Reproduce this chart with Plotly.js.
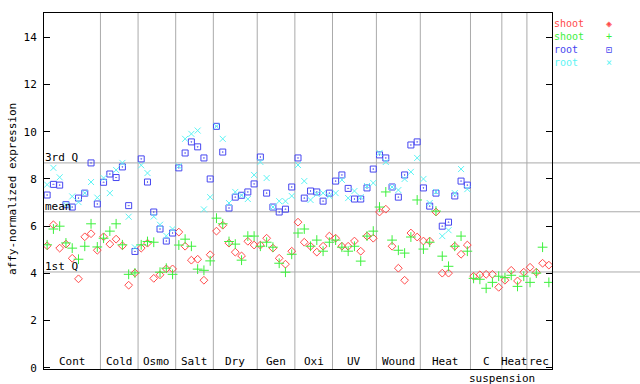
<!DOCTYPE html>
<html>
<head>
<meta charset="utf-8">
<script src="https://cdn.plot.ly/plotly-3.0.1.min.js"></script>
<style>html,body{margin:0;padding:0;background:#fff;}#chart{width:640px;height:384px;}</style>
</head>
<body>
<div id="chart"></div>
<script>
// Group labels and number of samples per group
const groupLabels = ["Cont","Cold","Osmo","Salt","Dry","Gen","Oxi","UV","Wound","Heat","C","Heat","rec"];
const groupSizes  = [9,6,6,6,7,6,6,7,7,8,5,4,4];
const subLabel = "suspension";

// Reference lines
const q3Value = 8.68;
const meanValue = 6.61;
const q1Value = 4.06;

// Series values (sample 1..81)
const shootRed = [5.17,6.06,5.07,5.24,4.64,3.77,5.55,5.68,4.98,
  5.55,5.24,5.45,5.17,3.50,4.02,
  5.07,5.28,3.79,3.94,4.19,4.19,
  5.75,5.15,4.56,4.60,3.71,4.79,
  5.79,6.04,5.28,4.90,4.74,5.36,5.20,
  5.20,5.49,5.07,4.64,4.39,4.94,
  6.17,5.32,5.15,4.90,5.15,5.58,
  5.49,5.15,5.15,5.37,4.94,5.58,5.49,
  6.60,6.72,5.15,4.22,3.71,5.71,5.54,
  5.37,5.37,6.60,4.01,4.01,5.15,4.81,5.20,
  3.88,3.94,3.96,3.96,3.41,
  3.71,4.13,3.68,4.05,
  4.26,4.05,4.43,4.35];
const shootGreen = [5.21,5.88,6.00,5.29,5.07,4.60,5.15,6.10,5.12,
  5.49,5.79,6.10,5.21,3.96,4.02,
  5.21,5.35,5.32,4.05,4.22,3.96,
  5.20,5.45,5.15,4.18,4.13,4.53,
  6.34,6.10,5.35,5.24,4.56,5.58,5.58,
  5.15,5.32,5.11,4.43,4.05,4.81,
  5.71,5.88,5.15,5.41,4.94,5.32,
  5.41,5.11,4.94,5.15,4.52,5.58,5.79,
  6.81,7.45,5.41,4.98,4.86,5.54,7.11,
  5.03,5.32,6.64,4.73,4.30,5.15,5.58,4.94,
  3.79,3.75,3.37,3.62,3.88,
  3.82,3.92,3.45,3.88,
  3.62,4.01,5.11,3.62];
const rootBlue = [7.32,7.77,7.74,6.91,6.81,7.19,7.40,8.68,6.94,
  7.86,8.21,8.06,8.51,6.87,4.93,
  8.85,7.87,6.60,5.88,5.37,5.71,
  8.47,9.10,9.57,9.36,8.89,8.00,
  10.23,9.14,6.77,7.23,7.31,7.45,7.79,
  8.93,7.40,6.81,6.60,6.72,7.66,
  8.89,7.19,7.49,7.45,7.06,7.40,
  7.91,8.17,7.60,7.15,7.15,7.62,8.42,
  9.02,8.89,7.66,7.23,8.17,9.44,9.57,
  7.62,6.85,7.40,6.00,6.17,7.28,7.91,7.74,
  null,null,null,null,null,
  null,null,null,null,
  null,null,null,null];
const rootCyan = [7.76,8.47,8.07,6.91,7.26,7.02,7.40,7.87,7.21,
  8.04,7.40,8.38,8.68,6.40,5.10,
  8.58,8.25,6.41,6.06,5.59,5.88,
  8.54,9.70,9.91,10.05,6.71,7.23,
  10.23,9.70,6.98,7.45,7.31,7.15,8.17,
  8.72,8.04,6.81,7.06,7.06,7.28,
  8.59,7.91,7.11,7.36,7.40,7.28,
  7.40,7.96,7.19,7.49,7.23,7.70,7.83,
  9.10,8.72,7.66,7.53,8.00,8.30,8.89,
  8.00,6.98,7.45,5.58,5.83,7.40,8.42,7.57,
  null,null,null,null,null,
  null,null,null,null,
  null,null,null,null];

const seriesNames = ["shoot","shoot","root","root"];
const seriesColors = ["#ff4a4a","#3cf03c","#4646f0","#5cf4f4"];
const legendGlyphs = ["\u25C8","+","\u22A1","\u00D7"];

const nSamples = shootRed.length;
const xs = Array.from({length:nSamples},(_,i)=>i+1);

const FONT = "DejaVu Sans Mono, monospace";

function mk(y, name, color, symbol, size){
  return {x: xs, y: y, name: name, type: "scatter", mode: "markers",
    marker: {symbol: symbol, size: size, color: color, line: {color: color, width: 1}},
    showlegend: false, cliponaxis: true};
}
const traces = [
  mk(shootRed, seriesNames[0], seriesColors[0], "diamond-open", 6),
  mk(shootGreen, seriesNames[1], seriesColors[1], "cross-thin-open", 7),
  mk(rootBlue, seriesNames[2], seriesColors[2], "square-open-dot", 6),
  mk(rootCyan, seriesNames[3], seriesColors[3], "x-thin-open", 6)
];

const shapes = [];
const annotations = [];
const gridColor = "#aaaaaa";
// group separators and labels
let start = 0.5;
groupSizes.forEach((n, i) => {
  const end = start + n;
  if (i < groupSizes.length - 1) {
    shapes.push({type:"line", xref:"x", yref:"paper", x0:end, x1:end, y0:0, y1:1,
      line:{color:gridColor, width:1}, layer:"below"});
  }
  annotations.push({xref:"x", yref:"paper", x:(start+end)/2, y:0, yanchor:"bottom", xanchor:"center",
    text: groupLabels[i], showarrow:false, font:{family:FONT, size:11, color:"#000"}, yshift:-1});
  if (groupLabels[i] === "C") {
    annotations.push({xref:"x", yref:"paper", x:end, y:0, yanchor:"top", xanchor:"center",
      text: subLabel, showarrow:false, font:{family:FONT, size:11, color:"#000"}, yshift:-1});
  }
  start = end;
});
// reference lines
[[q3Value,"3rd Q"],[meanValue,"mean"],[q1Value,"1st Q"]].forEach(([v,t]) => {
  shapes.push({type:"line", xref:"paper", yref:"y", x0:0, x1:1, y0:v, y1:v,
    line:{color:gridColor, width:1}, layer:"below"});
  annotations.push({xref:"paper", yref:"y", x:0, y:v, xanchor:"left", yanchor:"bottom",
    text:t, showarrow:false, font:{family:FONT, size:11, color:"#000"}, xshift:-1, yshift:-3});
});
// y title
annotations.push({xref:"paper", yref:"paper", x:-0.054, y:0.505, xanchor:"center", yanchor:"middle",
  text:"affy-normalized expression", textangle:-90, showarrow:false,
  font:{family:FONT, size:11, color:"#000"}});
// legend (text then glyph), one multi-line block each
const legText = seriesNames.map((nm,i)=>'<span style="color:'+seriesColors[i]+'">'+nm+'</span>').join('<br>');
const legGlyph = legendGlyphs.map((g,i)=>'<span style="color:'+seriesColors[i]+'">'+g+'</span>').join('<br>');
annotations.push({xref:"paper", yref:"paper", x:0.852, y:0.915, xanchor:"left", yanchor:"middle", align:"left",
  text:legText, showarrow:false, font:{family:FONT, size:10, color:"#000"}});
annotations.push({xref:"paper", yref:"paper", x:0.9485, y:0.915, xanchor:"center", yanchor:"middle", align:"center",
  text:legGlyph, showarrow:false, font:{family:FONT, size:10, color:"#000"}});

const layout = {
  width: 640, height: 384,
  margin: {l:44, r:0, t:13, b:15, pad:0},
  paper_bgcolor: "#fff", plot_bgcolor: "#fff",
  showlegend: false,
  xaxis: {domain:[0, 508/596], range:[0.5, nSamples+0.5], showgrid:false, zeroline:false,
    showticklabels:false, ticks:"", showline:true, mirror:true, linecolor:"#000", linewidth:1},
  yaxis: {range:[-0.05, 15.03], tickvals:[0,2,4,6,8,10,12,14], showgrid:false, zeroline:false,
    ticks:"inside", ticklen:6, tickcolor:"#000", showline:true, mirror:"ticks", linecolor:"#000", linewidth:1,
    tickfont:{family:FONT, size:11, color:"#000"}, ticklabelstandoff:4},
  shapes: shapes,
  annotations: annotations
};

Plotly.newPlot("chart", traces, layout, {staticPlot:true, displayModeBar:false});
</script>
</body>
</html>
